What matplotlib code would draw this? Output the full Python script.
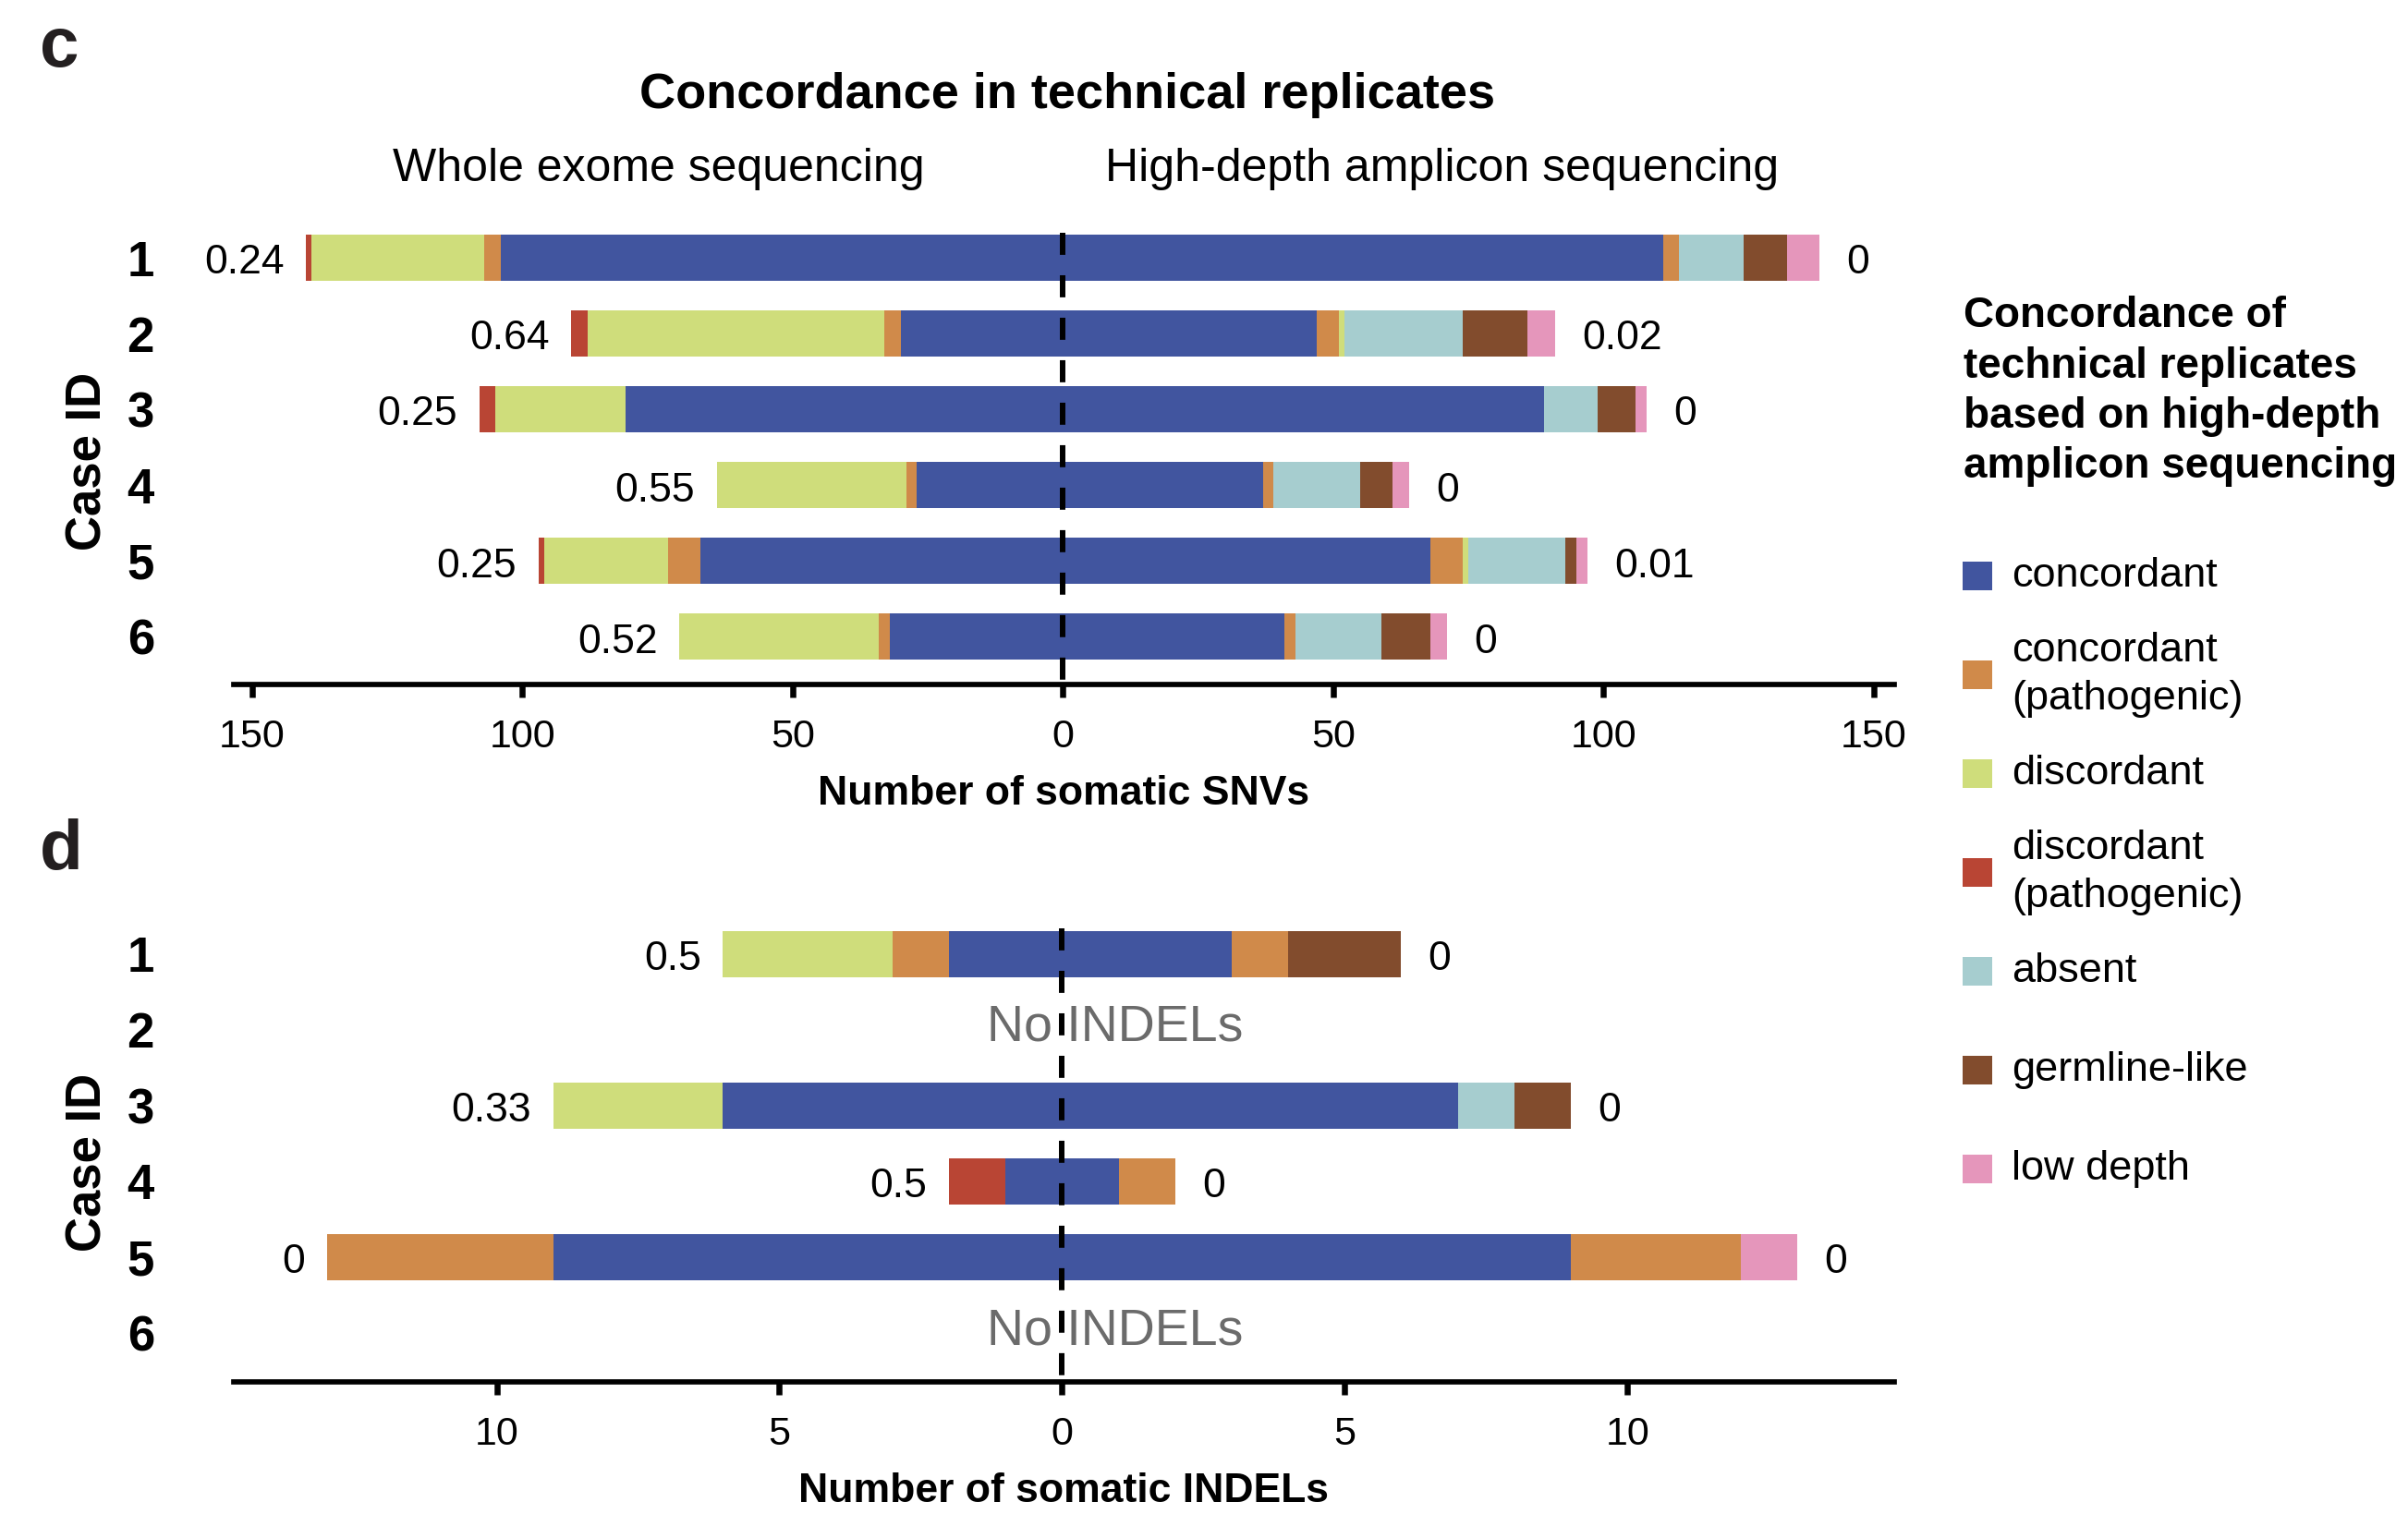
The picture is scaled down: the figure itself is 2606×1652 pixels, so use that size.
import matplotlib
matplotlib.use("Agg")
import matplotlib.pyplot as plt
from matplotlib.patches import Rectangle
from matplotlib.ticker import FuncFormatter
import numpy as np

plt.rcParams['font.family'] = ['Liberation Sans', 'DejaVu Sans']

cases = ["1", "2", "3", "4", "5", "6"]
categories = ["concordant", "concordant\n(pathogenic)", "discordant",
              "discordant\n(pathogenic)", "absent", "germline-like", "low depth"]
colors = ["#41559f", "#d08a4a", "#cfdd7b", "#b94534", "#a6cdcf", "#824c2d", "#e596bb"]

# somatic SNVs, whole exome sequencing (left side)
snv_wes_concordant = [104, 30, 81, 27, 67, 32]
snv_wes_conc_path = [3, 3, 0, 2, 6, 2]
snv_wes_discordant = [32, 55, 24, 35, 23, 37]
snv_wes_disc_path = [1, 3, 3, 0, 1, 0]
snv_wes_absent = [0, 0, 0, 0, 0, 0]
snv_wes_germline = [0, 0, 0, 0, 0, 0]
snv_wes_low_depth = [0, 0, 0, 0, 0, 0]
snv_wes_ratio = ["0.24", "0.64", "0.25", "0.55", "0.25", "0.52"]

# somatic SNVs, high-depth amplicon sequencing (right side)
snv_amp_concordant = [111, 47, 89, 37, 68, 41]
snv_amp_conc_path = [3, 4, 0, 2, 6, 2]
snv_amp_discordant = [0, 1, 0, 0, 1, 0]
snv_amp_disc_path = [0, 0, 0, 0, 0, 0]
snv_amp_absent = [12, 22, 10, 16, 18, 16]
snv_amp_germline = [8, 12, 7, 6, 2, 9]
snv_amp_low_depth = [6, 5, 2, 3, 2, 3]
snv_amp_ratio = ["0", "0.02", "0", "0", "0.01", "0"]

# somatic INDELs, whole exome sequencing
indel_wes_concordant = [2, 0, 6, 1, 9, 0]
indel_wes_conc_path = [1, 0, 0, 0, 4, 0]
indel_wes_discordant = [3, 0, 3, 0, 0, 0]
indel_wes_disc_path = [0, 0, 0, 1, 0, 0]
indel_wes_absent = [0, 0, 0, 0, 0, 0]
indel_wes_germline = [0, 0, 0, 0, 0, 0]
indel_wes_low_depth = [0, 0, 0, 0, 0, 0]
indel_wes_ratio = ["0.5", "", "0.33", "0.5", "0", ""]

# somatic INDELs, high-depth amplicon sequencing
indel_amp_concordant = [3, 0, 7, 1, 9, 0]
indel_amp_conc_path = [1, 0, 0, 1, 3, 0]
indel_amp_discordant = [0, 0, 0, 0, 0, 0]
indel_amp_disc_path = [0, 0, 0, 0, 0, 0]
indel_amp_absent = [0, 0, 1, 0, 0, 0]
indel_amp_germline = [2, 0, 1, 0, 0, 0]
indel_amp_low_depth = [0, 0, 0, 0, 1, 0]
indel_amp_ratio = ["0", "", "0", "0", "0", ""]
indel_empty = ["2", "6"]

W, H = 2606, 1652
fig = plt.figure(figsize=(W / 100, H / 100), dpi=100)

y = np.arange(len(cases))


def draw_side(ax, series, sign, labels):
    left = np.zeros(len(cases))
    for vals, col in zip(series, colors):
        v = np.array(vals, dtype=float) * sign
        ax.barh(y, v, left=left, height=0.61, color=col, linewidth=0, zorder=2)
        left += v
    gap = 17 if sign < 0 else 21
    for i, txt in enumerate(labels):
        if txt == "":
            continue
        ax.annotate(txt, (left[i], y[i]), xytext=(gap * sign, -12.5), textcoords="offset points",
                    ha="right" if sign < 0 else "left", va="baseline", fontsize=32)


def style_axis(ax, xlim, ylim, ticks, xlabel):
    ax.set_xlim(*xlim)
    ax.set_ylim(*ylim)
    for s in ["top", "left", "right"]:
        ax.spines[s].set_visible(False)
    ax.spines["bottom"].set_linewidth(4.1)
    ax.set_xticks(ticks)
    ax.xaxis.set_major_formatter(FuncFormatter(lambda v, p: f"{abs(v):g}"))
    ax.tick_params(axis="x", length=10, width=4.7, pad=16.5, labelsize=31)
    ax.set_yticks(y)
    ax.set_yticklabels(cases, fontsize=38, fontweight="bold")
    ax.tick_params(axis="y", length=0, pad=62)
    ax.set_xlabel(xlabel, fontsize=32, fontweight="bold", labelpad=15)
    ax.plot([0, 0], [ylim[1] + 0.17, ylim[0]], color="black", lw=4.3,
            dashes=(4.0, 3.7), zorder=5, clip_on=False)


# panel c: SNVs
ax1 = fig.add_axes([253 / W, 1 - 741 / H, 1797 / W, 503 / H])
draw_side(ax1, [snv_wes_concordant, snv_wes_conc_path, snv_wes_discordant, snv_wes_disc_path,
                snv_wes_absent, snv_wes_germline, snv_wes_low_depth], -1, snv_wes_ratio)
draw_side(ax1, [snv_amp_concordant, snv_amp_conc_path, snv_amp_discordant, snv_amp_disc_path,
                snv_amp_absent, snv_amp_germline, snv_amp_low_depth], 1, snv_amp_ratio)
style_axis(ax1, (-153.4, 153.8), (5.63, -0.5), [-150, -100, -50, 0, 50, 100, 150],
           "Number of somatic SNVs")

# panel d: INDELs
ax2 = fig.add_axes([253 / W, 1 - 1496.4 / H, 1797 / W, 504.9 / H])
draw_side(ax2, [indel_wes_concordant, indel_wes_conc_path, indel_wes_discordant, indel_wes_disc_path,
                indel_wes_absent, indel_wes_germline, indel_wes_low_depth], -1, indel_wes_ratio)
draw_side(ax2, [indel_amp_concordant, indel_amp_conc_path, indel_amp_discordant, indel_amp_disc_path,
                indel_amp_absent, indel_amp_germline, indel_amp_low_depth], 1, indel_amp_ratio)
style_axis(ax2, (-14.65, 14.72), (5.65, -0.5), [-10, -5, 0, 5, 10],
           "Number of somatic INDELs")
for c in indel_empty:
    ax2.text(0.94, cases.index(c) + 0.146, "No INDELs", ha="center", va="baseline",
             fontsize=40, color="#6b6b6b", zorder=4)

# titles and panel letters
fig.text(1155 / W, 1 - 117 / H, "Concordance in technical replicates", ha="center",
         va="baseline", fontsize=39, fontweight="bold")
fig.text(713 / W, 1 - 196 / H, "Whole exome sequencing", ha="center", va="baseline", fontsize=36)
fig.text(1561 / W, 1 - 196 / H, "High-depth amplicon sequencing", ha="center", va="baseline",
         fontsize=36)
fig.text(43 / W, 1 - 72 / H, "c", fontsize=55, fontweight="bold", color="#231f20", va="baseline")
fig.text(43 / W, 1 - 941 / H, "d", fontsize=55, fontweight="bold", color="#231f20", va="baseline")
fig.text(96 / W, 1 - 499 / H, "Case ID", rotation=90, ha="center", va="center",
         fontsize=38, fontweight="bold")
fig.text(96 / W, 1 - 1258 / H, "Case ID", rotation=90, ha="center", va="center",
         fontsize=38, fontweight="bold")

# legend
fig.text(2125 / W, 1 - 517 / H,
         "Concordance of\ntechnical replicates\nbased on high-depth\namplicon sequencing",
         ha="left", va="baseline", fontsize=33, fontweight="bold", linespacing=1.3)
for k, (lab, col) in enumerate(zip(categories, colors)):
    cy = 623.5 + 107 * k
    fig.patches.append(Rectangle((2124 / W, 1 - (cy + 15.5) / H), 32 / W, 31 / H,
                                 transform=fig.transFigure, facecolor=col, edgecolor="none"))
    fig.text(2177 / W, 1 - cy / H, lab, ha="left", va="center", fontsize=32.5, linespacing=1.35)

fig.savefig("out.png", dpi=100)
